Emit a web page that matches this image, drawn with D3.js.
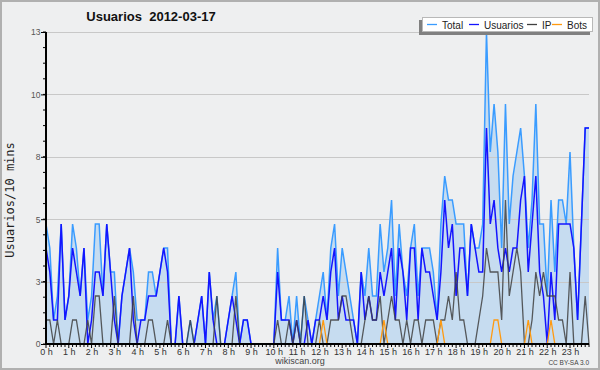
<!DOCTYPE html>
<html>
<head>
<meta charset="utf-8">
<script src="https://cdn.jsdelivr.net/npm/d3@7"></script>
<style>
  body { margin: 0; background: #fff; }
  svg { display: block; }
</style>
</head>
<body>
<div id="chart"></div>
<script>
// users per 10 minutes, 144 slots (00:00 .. 23:50)
var total    = [5,4,1,2,5,1,2,5,4,2,4,1,2,5,5,2,5,3,3,0,2,3,4,3,1,1,1,3,3,2,3,4,4,0,0,2,0,0,1,0,1,2,0,3,1,2,0,0,
                1,2,3,0,1,1,0,0,0,0,0,0,0,4,1,1,2,0,2,0,2,1,0,1,2,3,1,4,5,2,4,3,2,1,0,3,2,4,2,2,5,3,4,6,2,5,3,2,
                4,5,2,4,4,4,3,1,5,7,6,6,5,5,5,2,5,4,4,5,13,8,10,8,4,10,5,7,8,9,7,4,6,10,5,5,2,6,3,6,6,5,8,4,1,5,9,9];
var usuarios = [4,3,1,1,5,1,2,4,3,2,4,0,1,3,3,2,5,3,1,0,2,3,4,1,0,1,1,2,2,2,3,4,3,0,0,2,0,0,0,0,1,2,0,3,1,0,0,0,
                1,2,1,0,1,1,0,0,0,0,0,0,0,3,1,1,1,0,1,0,0,1,0,1,1,2,1,3,4,1,2,1,1,1,0,3,1,2,1,1,3,2,3,4,1,4,3,1,
                4,4,1,4,3,3,2,1,3,6,4,5,2,4,4,2,5,4,3,3,9,5,6,4,3,4,3,4,4,6,7,3,5,7,3,2,0,3,1,5,5,5,5,4,1,5,9,9];
var ip       = [1,1,0,1,0,0,0,1,1,0,0,1,0,2,2,0,0,0,2,0,0,0,0,2,0,0,0,1,1,0,0,0,1,0,0,0,0,0,1,0,0,0,0,0,0,2,0,0,
                0,0,2,0,0,0,0,0,0,0,0,0,0,1,0,0,1,0,1,0,2,0,0,0,1,0,0,1,1,1,2,2,1,0,0,0,1,2,1,1,2,0,1,2,1,1,0,1,
                0,1,1,0,1,1,1,0,1,1,2,1,3,1,1,0,0,0,1,2,4,3,3,3,1,6,2,3,4,3,0,0,1,3,2,3,2,2,2,1,1,0,3,0,0,0,2,0];
var bots     = [0,0,0,0,0,0,0,0,0,0,0,0,0,0,0,0,0,0,0,0,0,0,0,0,0,0,0,0,0,0,0,0,0,0,0,0,0,0,0,0,0,0,0,0,0,0,0,0,
                0,0,0,0,0,0,0,0,0,0,0,0,0,0,0,0,0,0,0,0,0,0,0,0,0,1,0,0,0,0,0,0,0,0,0,0,0,0,0,0,0,1,0,0,0,0,0,0,
                0,0,0,0,0,0,0,0,1,0,0,0,0,0,0,0,0,0,0,0,0,0,1,1,0,0,0,0,0,0,0,1,0,0,0,0,0,1,0,0,0,0,0,0,0,0,0,0];

var hourLabels  = ["0 h","1 h","2 h","3 h","4 h","5 h","6 h","7 h","8 h","9 h","10 h","11 h",
                   "12 h","13 h","14 h","15 h","16 h","17 h","18 h","19 h","20 h","21 h","22 h","23 h"];
var yTickValues = [0, 2.6, 5.2, 7.8, 10.4, 13];
var yTickLabels = ["0", "3", "5", "8", "10", "13"];
var seriesNames = ["Total", "Usuarios", "IP", "Bots"];
var seriesColors = ["#3a9cff", "#1414ff", "#404040", "#ff9a10"];

var W = 600, H = 370;
var margin = {top: 32, right: 11, bottom: 26, left: 46};

var svg = d3.select("#chart").append("svg")
    .attr("width", W)
    .attr("height", H);

// background + frame
svg.append("rect")
    .attr("x", 1).attr("y", 1)
    .attr("width", W - 2).attr("height", H - 2)
    .attr("fill", "#eeeff0")
    .attr("stroke", "#b0b0b0")
    .attr("stroke-width", 2);

var x = d3.scaleLinear().domain([0, total.length - 1]).range([margin.left, W - margin.right]);
var y = d3.scaleLinear().domain([0, 13]).range([H - margin.bottom, margin.top]);

var sets = [total, usuarios, ip, bots];

// Total area
var area = d3.area()
    .x(function(d, i) { return x(i); })
    .y0(y(0))
    .y1(function(d) { return y(d); });

svg.append("path")
    .attr("d", area(total))
    .attr("fill", "#c6dcf0");

// grid lines
svg.append("g").selectAll("line")
    .data(yTickValues.slice(1))
    .enter().append("line")
    .attr("x1", x(0)).attr("x2", x(total.length - 1))
    .attr("y1", function(d) { return Math.round(y(d)) + 0.5; })
    .attr("y2", function(d) { return Math.round(y(d)) + 0.5; })
    .attr("stroke", "#c8c8c8")
    .attr("stroke-width", 1);

// lines
var line = d3.line()
    .x(function(d, i) { return x(i); })
    .y(function(d) { return y(d); });

sets.forEach(function(s, k) {
    svg.append("path")
        .attr("d", line(s))
        .attr("fill", "none")
        .attr("stroke", seriesColors[k])
        .attr("stroke-width", k < 2 ? 1.5 : 1.3)
        .attr("stroke-opacity", k == 2 ? 0.85 : 1)
        .attr("stroke-linejoin", "miter");
});

// Add the Y Axis
var yAxis = svg.append("g").attr("transform", "translate(" + margin.left + ",0)");
yAxis.call(d3.axisLeft(y).tickValues(yTickValues).tickSize(5)
        .tickFormat(function(d, i) { return yTickLabels[i]; }));
yAxis.select(".domain").remove();
yAxis.selectAll("line").attr("stroke", "#000");
yAxis.selectAll("text")
    .attr("font-family", "Liberation Sans, Arial, sans-serif")
    .attr("font-size", "8.5px")
    .attr("fill", "#555")
    .attr("x", -5.5)
    .attr("dy", "0.35em");
yAxis.selectAll(".minor")
    .data(d3.range(0, 13.01, 0.65))
    .enter().append("line")
    .attr("class", "minor")
    .attr("x1", -3).attr("x2", 0)
    .attr("y1", function(d) { return y(d); })
    .attr("y2", function(d) { return y(d); })
    .attr("stroke", "#000");

// Add the X Axis
var xAxis = svg.append("g").attr("transform", "translate(0," + (H - margin.bottom) + ")");
xAxis.selectAll(".minor")
    .data(d3.range(0, total.length))
    .enter().append("line")
    .attr("class", "minor")
    .attr("x1", function(d) { return x(d); })
    .attr("x2", function(d) { return x(d); })
    .attr("y1", 0)
    .attr("y2", function(d) { return d % 6 == 0 ? 4 : 3; })
    .attr("stroke", "#000");
xAxis.selectAll("text")
    .data(hourLabels)
    .enter().append("text")
    .attr("x", function(d, i) { return x(i * 6) + 0.5; })
    .attr("y", 11)
    .attr("text-anchor", "middle")
    .attr("font-family", "Liberation Sans, Arial, sans-serif")
    .attr("font-size", "9px")
    .attr("fill", "#333")
    .text(function(d) { return d; });

// axis lines
svg.append("line")
    .attr("x1", margin.left).attr("x2", margin.left)
    .attr("y1", margin.top).attr("y2", H - margin.bottom + 1)
    .attr("stroke", "#000").attr("stroke-width", 2);
svg.append("line")
    .attr("x1", margin.left - 1).attr("x2", W - margin.right)
    .attr("y1", H - margin.bottom).attr("y2", H - margin.bottom)
    .attr("stroke", "#000").attr("stroke-width", 2);

// title
svg.append("text")
    .attr("x", 151).attr("y", 21)
    .attr("text-anchor", "middle")
    .attr("font-family", "Liberation Sans, Arial, sans-serif")
    .attr("font-weight", "bold")
    .attr("font-size", "13px")
    .attr("fill", "#111")
    .attr("xml:space", "preserve")
    .text("Usuarios  2012-03-17");

// y axis title
svg.append("text")
    .attr("transform", "translate(14,200) rotate(-90)")
    .attr("text-anchor", "middle")
    .attr("font-family", "DejaVu Sans Mono, monospace")
    .attr("font-size", "12px")
    .attr("fill", "#222")
    .text("Usuarios/10 mins");

// footer
svg.append("text")
    .attr("x", 300).attr("y", 364)
    .attr("text-anchor", "middle")
    .attr("font-family", "Liberation Sans, Arial, sans-serif")
    .attr("font-size", "9px")
    .attr("fill", "#444")
    .text("wikiscan.org");
svg.append("text")
    .attr("x", 589).attr("y", 365)
    .attr("text-anchor", "end")
    .attr("font-family", "Liberation Sans, Arial, sans-serif")
    .attr("font-size", "6.5px")
    .attr("fill", "#444")
    .text("CC BY-SA 3.0");

// legend
var legend = svg.append("g");
legend.append("rect")
    .attr("x", 419).attr("y", 20).attr("width", 171).attr("height", 15)
    .attr("fill", "#808080");
legend.append("rect")
    .attr("x", 422.5).attr("y", 17.5).attr("width", 170).attr("height", 14)
    .attr("fill", "#fff")
    .attr("stroke", "#b8b8b8");
var legendX = [427, 469, 527, 552];
seriesNames.forEach(function(name, k) {
    legend.append("line")
        .attr("x1", legendX[k]).attr("x2", legendX[k] + 10)
        .attr("y1", 24.5).attr("y2", 24.5)
        .attr("stroke", seriesColors[k])
        .attr("stroke-width", 1.3);
    legend.append("text")
        .attr("x", legendX[k] + 15).attr("y", 28.5)
        .attr("font-family", "Liberation Sans, Arial, sans-serif")
        .attr("font-size", "10px")
        .attr("fill", "#222")
        .text(name);
});
</script>
</body>
</html>
